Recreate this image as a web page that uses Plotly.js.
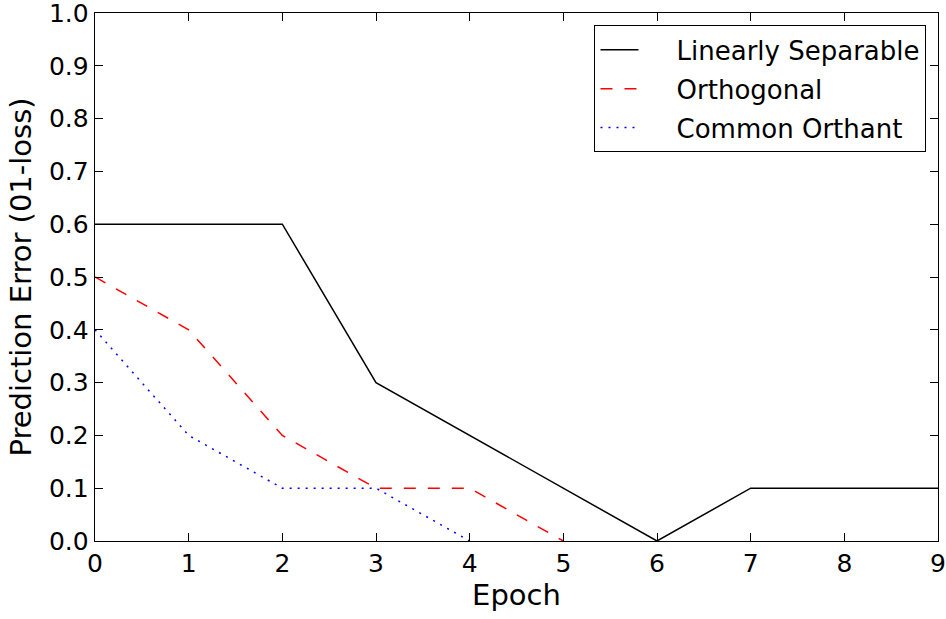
<!DOCTYPE html>
<html>
<head>
<meta charset="utf-8">
<script src="https://cdn.plot.ly/plotly-3.0.1.min.js"></script>
<style>html,body{margin:0;padding:0;background:#fff;}#chart{width:946px;height:619px;}</style>
</head>
<body>
<div id="chart"></div>
<script>
const epochsLinear = [0, 1, 2, 3, 4, 5, 6, 7, 8, 9];
const linearSeparable = [0.6, 0.6, 0.6, 0.3, 0.2, 0.1, 0.0, 0.1, 0.1, 0.1];
const epochsOrthogonal = [0, 1, 2, 3, 4, 5];
const orthogonal = [0.5, 0.4, 0.2, 0.1, 0.1, 0.0];
const epochsOrthant = [0, 1, 2, 3, 4];
const commonOrthant = [0.4, 0.2, 0.1, 0.1, 0.0];
const seriesNames = ['Linearly Separable', 'Orthogonal', 'Common Orthant'];
const xTicks = [0, 1, 2, 3, 4, 5, 6, 7, 8, 9];
const yTicks = [0.0, 0.1, 0.2, 0.3, 0.4, 0.5, 0.6, 0.7, 0.8, 0.9, 1.0];

const font = 'DejaVu Sans, sans-serif';
const pad = '&nbsp;&nbsp;&nbsp;&nbsp;';
const traces = [
  {x: epochsLinear, y: linearSeparable, name: pad + seriesNames[0], mode: 'lines', legendgroup: 'a',
   line: {color: '#000000', width: 1.5}},
  {x: epochsOrthogonal, y: orthogonal, name: pad + seriesNames[1], mode: 'lines', legendgroup: 'b',
   line: {color: '#ff0000', width: 1.5, dash: '12px,12px'}},
  {x: epochsOrthant, y: commonOrthant, name: pad + seriesNames[2], mode: 'lines', legendgroup: 'c',
   line: {color: '#0000ff', width: 1.5, dash: '2px,6px'}}
];
const axisCommon = {
  showline: true, mirror: 'ticks', linecolor: '#000', linewidth: 1.3,
  ticks: 'inside', ticklen: 8, tickwidth: 1, tickcolor: '#000',
  showgrid: false, zeroline: false, ticklabeloverflow: 'allow',
  tickfont: {family: font, size: 25, color: '#000'}
};
const layout = {
  width: 946, height: 619,
  margin: {l: 95, r: 8, t: 13, b: 78},
  paper_bgcolor: '#fff', plot_bgcolor: '#fff',
  font: {family: font, color: '#000'},
  xaxis: Object.assign({}, axisCommon, {
    range: [0, 9], tickvals: xTicks, ticktext: xTicks.map(String),
    title: {text: 'Epoch', font: {family: font, size: 29, color: '#000'}, standoff: 6}
  }),
  yaxis: Object.assign({}, axisCommon, {
    range: [0, 1], tickvals: yTicks, ticktext: yTicks.map(v => v.toFixed(1)),
    title: {text: 'Prediction Error (01-loss)', font: {family: font, size: 29, color: '#000'}, standoff: 8}
  }),
  showlegend: true,
  legend: {
    x: 0.986, y: 0.977, xanchor: 'right', yanchor: 'top',
    bordercolor: '#000', borderwidth: 1.3, bgcolor: '#fff',
    font: {family: font, size: 26, color: '#000'},
    itemwidth: 38, tracegroupgap: 2
  }
};
Plotly.newPlot('chart', traces, layout, {displayModeBar: false, staticPlot: true});
</script>
</body>
</html>
